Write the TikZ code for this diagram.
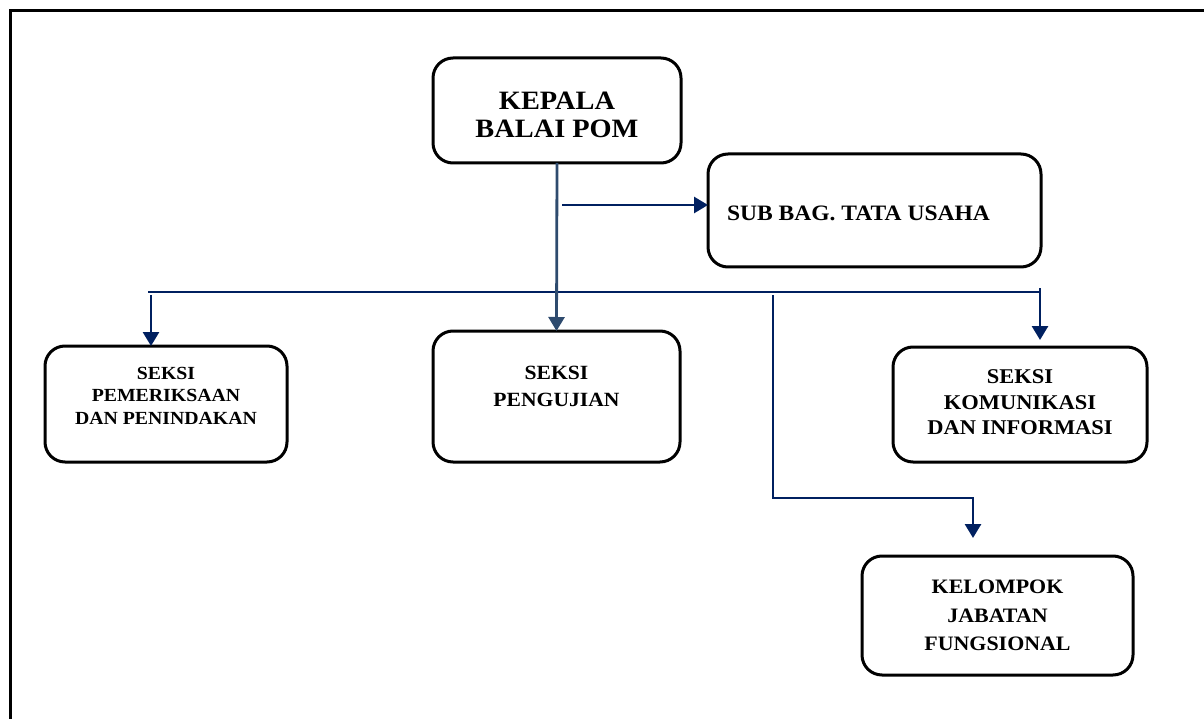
\documentclass[tikz,border=0pt]{standalone}
\usepackage{fontspec}
\setmainfont{Liberation Serif}[FakeStretch=1.07]
\usetikzlibrary{arrows.meta}
\definecolor{navy}{HTML}{002060}
\definecolor{slate}{HTML}{2E4B6E}
\newcommand{\boxtext}[2]{\raisebox{#1}[\height][\depth]{\begin{tabular}{@{}c@{}}#2\end{tabular}}}
\tikzset{
  orgbox/.style={draw=black, line width=3pt, rounded corners=20pt, inner sep=0pt, outer sep=0pt, font=\bfseries},
  conn/.style={draw=navy, line width=2.8pt},
  arr/.style={conn, -{Triangle[width=16pt,length=14pt]}},
  frameline/.style={draw=black, line width=2.8pt}
}
\begin{document}
\begin{tikzpicture}[x=1pt,y=-1pt]
\useasboundingbox (0,0) rectangle (1204,719);
\draw[frameline] (10.3,719) -- (10.3,10.7) -- (1204,10.7);

\node[orgbox, minimum width=248pt, minimum height=105pt, font=\bfseries\fontsize{26.5}{28}\selectfont] (kepala) at (557,110.5) {\boxtext{-7.5pt}{KEPALA\\BALAI POM}};
\node[orgbox, minimum width=333pt, minimum height=113pt, font=\bfseries\fontsize{22}{26}\selectfont] (subbag) at (874.5,210.5) {\boxtext{-4.5pt}{SUB BAG. TATA USAHA\hspace*{32pt}}};
\node[orgbox, minimum width=242pt, minimum height=116pt, font=\bfseries\fontsize{18.5}{22.5}\selectfont] (periksa) at (166,404) {\boxtext{6.75pt}{SEKSI\\PEMERIKSAAN\\DAN PENINDAKAN}};
\node[orgbox, minimum width=247pt, minimum height=131pt, font=\bfseries\fontsize{20.2}{27}\selectfont] (uji) at (556.5,396.5) {\boxtext{8.7pt}{SEKSI\\PENGUJIAN}};
\node[orgbox, minimum width=254pt, minimum height=115pt, font=\bfseries\fontsize{21}{25.5}\selectfont] (komin) at (1020,404.5) {\boxtext{0.6pt}{SEKSI\\KOMUNIKASI\\DAN INFORMASI}};
\node[orgbox, minimum width=271pt, minimum height=119pt, font=\bfseries\fontsize{20.5}{28.5}\selectfont] (jabfung) at (997.5,615.5) {\boxtext{-1.1pt}{KELOMPOK\\JABATAN\\FUNGSIONAL}};

\coordinate (tb) at (562,205);
\coordinate (busL) at (148,292);
\coordinate (busR) at (1040,292);
\coordinate (dL) at (151,295);
\coordinate (dR) at (1040,288);
\coordinate (dRe) at (1040,340);
\coordinate (mid1) at (773,295);
\coordinate (mid2) at (973,498);
\coordinate (midE) at (973,538);

\draw[conn] (busL) -- (busR);
\draw[arr, draw=slate, fill=slate] (kepala.south) -- (uji.north);
\draw[arr] (tb) -- (tb -| subbag.west);
\draw[arr] (dL) -- (dL |- periksa.north);
\draw[arr] (dR) -- (dRe);
\draw[arr] (mid1) |- (mid2) -- (midE);
\end{tikzpicture}
\end{document}
